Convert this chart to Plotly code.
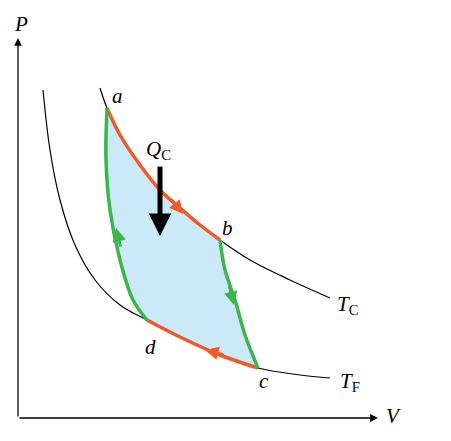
import plotly.graph_objects as go

# points (pixel coordinates, y downward)
tc_x = [100, 107, 120, 140, 160, 180, 200, 220, 250, 290, 330]
tc_y = [88, 108, 135, 165, 190, 208, 225, 240, 260, 280, 298]
tf_x = [43, 50, 60, 75, 95, 120, 147, 180, 220, 258, 300, 330]
tf_y = [90, 150, 200, 245, 280, 305, 320, 337, 355, 368, 375, 378]
da_x = [147, 133, 120, 110, 106, 107]
da_y = [320, 300, 260, 210, 160, 108]
bc_x = [220, 225, 235, 245, 258]
bc_y = [240, 270, 300, 335, 368]

ab_x, ab_y = tc_x[1:8], tc_y[1:8]
dc_x, dc_y = tf_x[6:10], tf_y[6:10]

orange = "#f05a28"
green = "#3cb54a"
serif = "Liberation Serif"

fig = go.Figure()
# shaded cycle
fig.add_trace(go.Scatter(
    x=ab_x + bc_x[1:] + dc_x[::-1][1:] + da_x[1:],
    y=ab_y + bc_y[1:] + dc_y[::-1][1:] + da_y[1:],
    fill="toself", fillcolor="#cce9f9", line=dict(width=0), mode="lines",
    line_shape="spline"))
fig.add_trace(go.Scatter(x=tc_x, y=tc_y, mode="lines", line=dict(color="black", width=1.2), line_shape="spline"))
fig.add_trace(go.Scatter(x=tf_x, y=tf_y, mode="lines", line=dict(color="black", width=1.2), line_shape="spline"))
fig.add_trace(go.Scatter(x=ab_x, y=ab_y, mode="lines", line=dict(color=orange, width=3.5), line_shape="spline"))
fig.add_trace(go.Scatter(x=dc_x, y=dc_y, mode="lines", line=dict(color=orange, width=3.5), line_shape="spline"))
fig.add_trace(go.Scatter(x=da_x, y=da_y, mode="lines", line=dict(color=green, width=3.5), line_shape="spline"))
fig.add_trace(go.Scatter(x=bc_x, y=bc_y, mode="lines", line=dict(color=green, width=3.5), line_shape="spline"))


def arrow(x0, y0, x1, y1, color, size=1.0, width=2):
    fig.add_annotation(x=x1, y=y1, ax=x0, ay=y0, xref="x", yref="y", axref="x", ayref="y",
                       showarrow=True, arrowhead=2, arrowsize=size, arrowwidth=width,
                       arrowcolor=color, text="")


# axes
arrow(18, 418, 18, 38, "black", 1.2, 1.3)
arrow(18, 418, 378, 418, "black", 1.2, 1.3)
# direction arrows
arrow(170, 198, 183, 214, orange, 0.9, 3)
arrow(225, 355, 205, 350, orange, 0.9, 3)
arrow(229, 285, 234, 305, green, 0.9, 3)
arrow(121, 248, 116, 228, green, 0.9, 3)
# heat arrow
arrow(160, 165, 160, 236, "black", 0.9, 5)


def label(x, y, text, size=21):
    fig.add_annotation(x=x, y=y, text=text, showarrow=False, xref="x", yref="y",
                       font=dict(family=serif, size=size, color="black"))


label(117, 96, "<i>a</i>")
label(227, 228, "<i>b</i>")
label(264, 381, "<i>c</i>")
label(150, 347, "<i>d</i>")
label(347, 305, "<i>T</i><sub>C</sub>")
label(350, 382, "<i>T</i><sub>F</sub>")
label(21, 24, "<i>P</i>")
label(393, 416, "<i>V</i>")
label(158, 150, "<i>Q</i><sub>C</sub>")

fig.update_layout(
    width=451, height=441, margin=dict(l=0, r=0, t=0, b=0),
    plot_bgcolor="white", paper_bgcolor="white", showlegend=False,
    xaxis=dict(range=[8, 459], visible=False),
    yaxis=dict(range=[449, 8], visible=False),
)
fig.write_html("out.html")
